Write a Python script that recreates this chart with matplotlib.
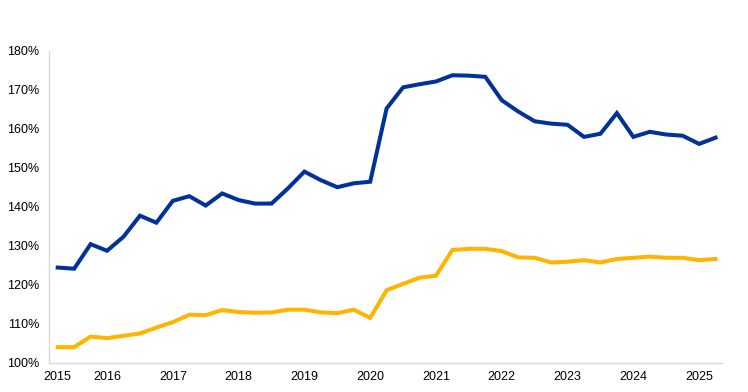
import matplotlib
matplotlib.use("Agg")
import matplotlib.pyplot as plt
from matplotlib.ticker import FuncFormatter

# Data (quarterly, 2015Q2 - 2025Q2), values in percent
quarters = [f"{y}Q{q}" for y in range(2015, 2026) for q in range(1, 5)][1:42]

blue_series = [124.4, 124.1, 130.4, 128.7, 132.3, 137.7, 135.9, 141.5, 142.7, 140.3,
               143.4, 141.7, 140.8, 140.8, 144.7, 149.0, 146.8, 145.0, 146.0, 146.4,
               165.2, 170.6, 171.4, 172.1, 173.7, 173.6, 173.3, 167.3, 164.4, 161.9,
               161.3, 161.0, 157.9, 158.7, 164.0, 157.9, 159.2, 158.5, 158.2, 156.1,
               157.7]
yellow_series = [104.0, 104.0, 106.7, 106.3, 106.9, 107.5, 109.0, 110.4, 112.3, 112.2,
                 113.5, 113.0, 112.8, 112.9, 113.6, 113.6, 112.9, 112.7, 113.6, 111.5,
                 118.6, 120.2, 121.8, 122.3, 128.9, 129.2, 129.2, 128.6, 127.0, 126.9,
                 125.7, 125.9, 126.3, 125.7, 126.6, 126.9, 127.2, 126.9, 126.9, 126.3,
                 126.6]

# year label at first point and at each Q1
tick_pos = [i for i, q in enumerate(quarters) if i == 0 or q.endswith("Q1")]
tick_lab = [quarters[i][:4] for i in tick_pos]

plt.rcParams['font.family'] = ['Liberation Sans', 'DejaVu Sans']

fig = plt.figure(figsize=(7.48, 3.92), dpi=100)
ax = fig.add_axes([49/748, 0.0747, (722.3-49)/748, 0.796])

x = list(range(len(quarters)))
ax.plot(x, blue_series, color='#003299', linewidth=2.9, solid_joinstyle='miter')
ax.plot(x, yellow_series, color='#FFB400', linewidth=2.9, solid_joinstyle='miter')

ax.set_ylim(100, 180)
ax.set_yticks(range(100, 181, 10))
ax.yaxis.set_major_formatter(FuncFormatter(lambda v, p: f"{v:.0f}%"))
ax.set_xlim(-0.53, 40.41)
ax.set_xticks(tick_pos)
ax.set_xticklabels(tick_lab)

for s in ['top', 'right']:
    ax.spines[s].set_visible(False)
for s in ['left', 'bottom']:
    ax.spines[s].set_color('#d9d9d9')
    ax.spines[s].set_linewidth(1)
ax.tick_params(axis='both', length=0, labelsize=9, colors='#000000')
ax.tick_params(axis='y', pad=7.2)
ax.tick_params(axis='x', pad=6)

fig.savefig('out.png', dpi=100, facecolor='white')
